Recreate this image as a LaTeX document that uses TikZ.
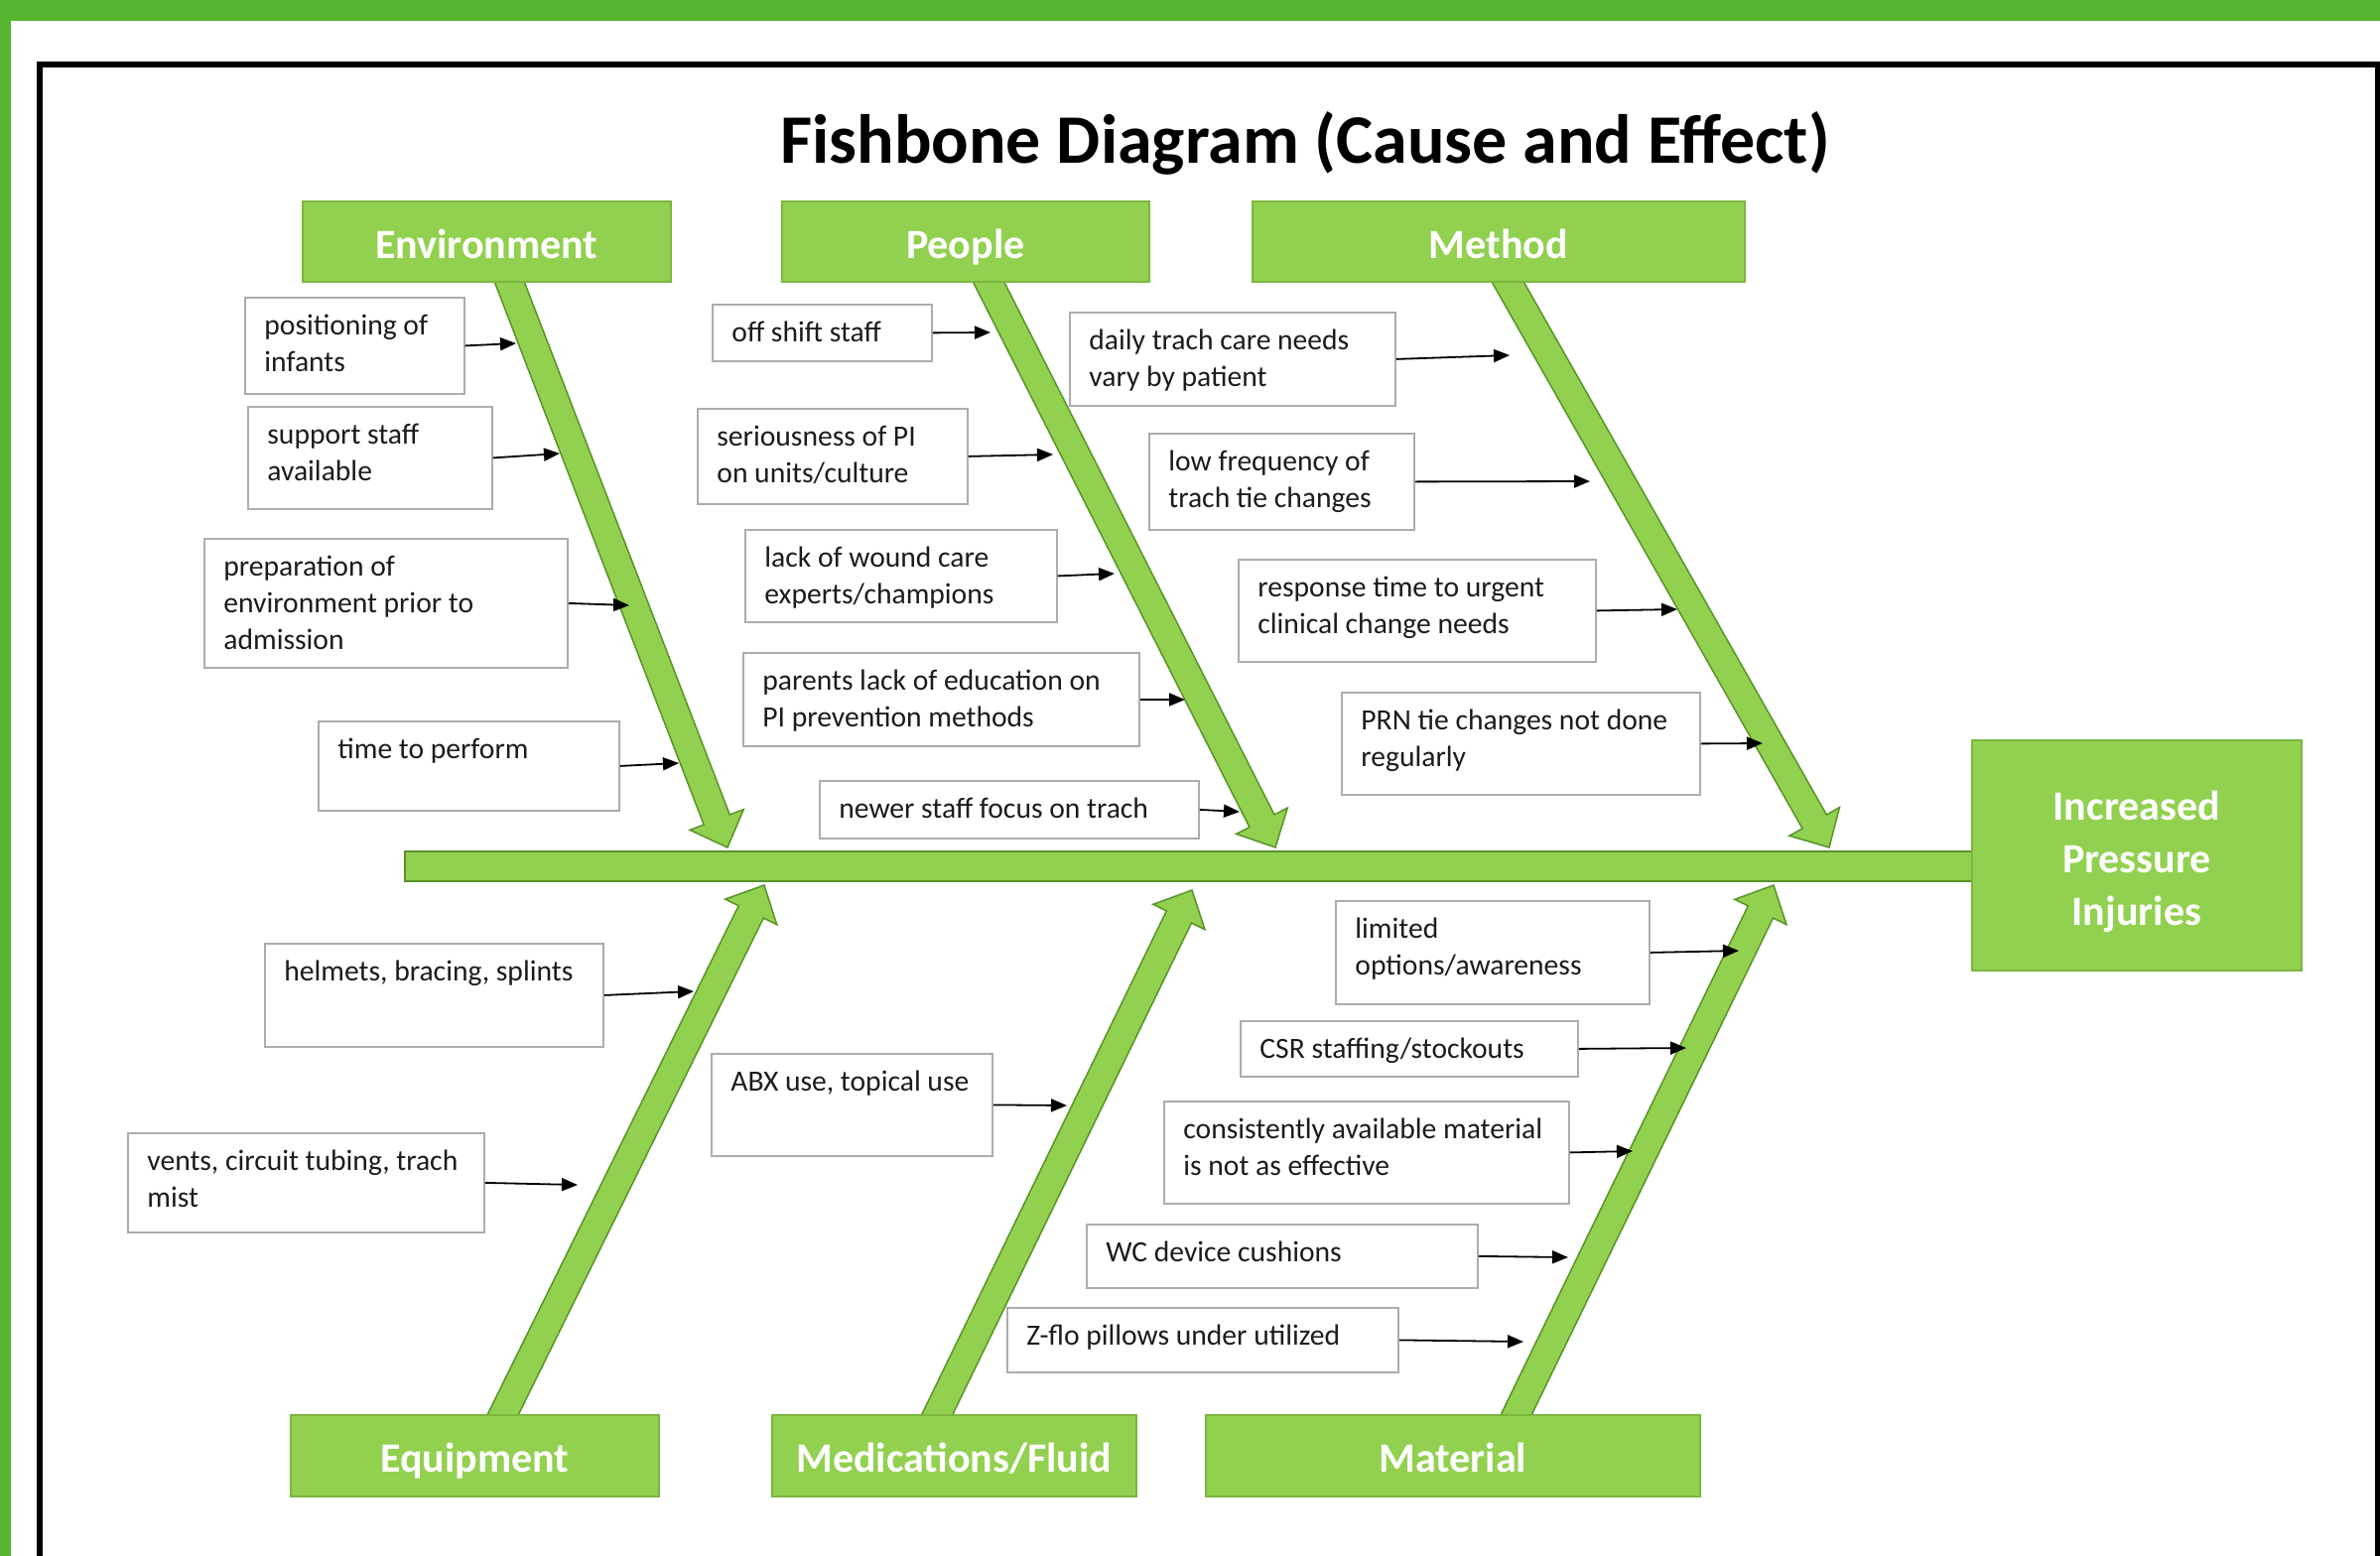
\documentclass[tikz,border=0pt]{standalone}
\usepackage{fontspec}
\setmainfont{Carlito}
\usetikzlibrary{calc,arrows.meta}
\definecolor{band}{RGB}{83,182,46}
\definecolor{catgreen}{RGB}{146,208,80}
\definecolor{catedge}{RGB}{122,182,62}
\definecolor{boneedge}{RGB}{88,148,40}
\definecolor{boxedge}{RGB}{172,172,172}
\definecolor{txt}{RGB}{28,28,28}
\newcommand\causebox[7]{%
  \node[cbox, minimum width=#4*0.5pt, minimum height=#5*0.5pt, anchor=north west] (#1) at (#2,#3) {};
  \node[ctext] (#1txt) at ($(#1.north west)+(20,12)$) {\strut #6};
  \coordinate (#1end) at #7;
  \draw[sarr] (#1.east) -- (#1end);
}
\newcommand\bonearrow[3]{%
  \coordinate (#1s) at #2;
  \coordinate (#1t) at #3;
  \coordinate (#1b) at ($(#1s)!-10pt!(#1t)$);
  \coordinate (#1h) at ($(#1t)!15pt!(#1s)$);
  \filldraw[bonestyle] ($(#1b)!7pt!90:(#1t)$) -- ($(#1h)!7pt!90:(#1t)$) -- ($(#1h)!14.5pt!90:(#1t)$) -- (#1t)
     -- ($(#1h)!14.5pt!-90:(#1t)$) -- ($(#1h)!7pt!-90:(#1t)$) -- ($(#1b)!7pt!-90:(#1t)$) -- cycle;
}
\begin{document}
\begin{tikzpicture}[x=0.5pt,y=-0.5pt,
  cbox/.style={draw=boxedge, fill=white, line width=0.9pt, inner sep=0pt},
  ctext/.style={anchor=north west, inner sep=0pt, align=left, text=txt,
    font=\fontsize{14.8}{18.5}\selectfont},
  sarr/.style={draw=black, line width=0.9pt, -{Triangle[length=8pt,width=6.5pt]}},
  bonestyle/.style={fill=catgreen, draw=boneedge, line width=0.75pt, line join=miter},
  catbox/.style={fill=catgreen, draw=catedge, line width=0.8pt, text=white, inner sep=0pt,
    font=\bfseries\fontsize{21}{25}\selectfont, text height=17pt, text depth=0pt, anchor=north west},
  effbox/.style={fill=catgreen, draw=catedge, line width=0.8pt, text=white, inner sep=0pt,
    font=\bfseries\fontsize{21}{26.5}\selectfont, align=center, anchor=north west}
]
\useasboundingbox (0,0) rectangle (2398,1568);
\fill[white] (0,0) rectangle (2398,1568);
\fill[band] (0,0) rectangle (2398,21);
\fill[band] (0,0) rectangle (11,1568);
\draw[line width=3pt] (40,1600) -- (40,65) -- (2395.5,65) -- (2395.5,1600);

\node[font=\bfseries\fontsize{35}{42}\selectfont, anchor=base, inner sep=0pt] (title) at (1315,164) {Fishbone Diagram (Cause and Effect)};

% spine
\draw[bonestyle] (408,858) rectangle (1990,888);

% bones
\bonearrow{benv}{(512.5,282)}{(733,854)}
\bonearrow{bpeo}{(995,282)}{(1285,854)}
\bonearrow{bmet}{(1518,282)}{(1843,854)}
\bonearrow{bequ}{(507,1425)}{(770,892)}
\bonearrow{bmed}{(944.5,1425)}{(1201,897)}
\bonearrow{bmat}{(1528,1425)}{(1787,892)}

% categories
\node[catbox, minimum width=371*0.5pt, minimum height=81*0.5pt] (env) at (304,202) {Environment};
\node[catbox, minimum width=370*0.5pt, minimum height=81*0.5pt] (peo) at (787,202) {People};
\node[catbox, minimum width=496*0.5pt, minimum height=81*0.5pt] (met) at (1261,202) {Method};
\node[catbox, minimum width=371*0.5pt, minimum height=82*0.5pt] (equ) at (292,1425) {Equipment};
\node[catbox, minimum width=367*0.5pt, minimum height=82*0.5pt] (med) at (777,1425) {Medications/Fluid};
\node[catbox, minimum width=498*0.5pt, minimum height=82*0.5pt] (mat) at (1214,1425) {Material};
\node[effbox, minimum width=332*0.5pt, minimum height=232*0.5pt] (eff) at (1986,745) {\rule{0pt}{21pt}Increased\\Pressure\\Injuries};

% Environment causes
\causebox{e1}{246}{299}{221}{97}{positioning of\\infants}{(520,346)}
\causebox{e2}{249}{409}{246}{103}{support staff\\available}{(564,457)}
\causebox{e3}{205}{542}{366}{130}{preparation of\\environment prior to\\admission}{(634,610)}
\causebox{e4}{320}{726}{303}{90}{time to perform}{(684,769)}
% People causes
\causebox{p1}{717}{306}{221}{57}{off shift staff}{(998,335)}
\causebox{p2}{702}{411}{272}{96}{seriousness of PI\\on units/culture}{(1061,458)}
\causebox{p3}{750}{533}{314}{93}{lack of wound care\\experts/champions}{(1123,578)}
\causebox{p4}{748}{657}{399}{94}{parents lack of education on\\PI prevention methods}{(1194,705)}
\causebox{p5}{825}{786}{382}{58}{newer staff focus on trach}{(1249,818)}
% Method causes
\causebox{m1}{1077}{314}{328}{94}{daily trach care needs\\vary by patient}{(1521,358)}
\causebox{m2}{1157}{436}{267}{97}{low frequency of\\trach tie changes}{(1602,485)}
\causebox{m3}{1247}{563}{360}{103}{response time to urgent\\clinical change needs}{(1690,614)}
\causebox{m4}{1351}{697}{361}{103}{PRN tie changes not done\\regularly}{(1776,749)}
% Equipment causes
\causebox{q1}{266}{950}{341}{104}{helmets, bracing, splints}{(699,999)}
\causebox{q2}{128}{1141}{359}{100}{vents, circuit tubing, trach\\mist}{(582,1194)}
% Medications causes
\causebox{d1}{716}{1061}{283}{103}{ABX use, topical use}{(1075,1114)}
% Material causes
\causebox{t1}{1345}{907}{316}{104}{limited\\options/awareness}{(1752,958)}
\causebox{t2}{1249}{1028}{340}{56}{CSR staffing/stockouts}{(1699,1056)}
\causebox{t3}{1172}{1109}{408}{103}{consistently available material\\is not as effective}{(1645,1160)}
\causebox{t4}{1094}{1233}{394}{64}{WC device cushions}{(1580,1267)}
\causebox{t5}{1014}{1317}{394}{65}{Z-flo pillows under utilized}{(1535,1352)}
\end{tikzpicture}
\end{document}
